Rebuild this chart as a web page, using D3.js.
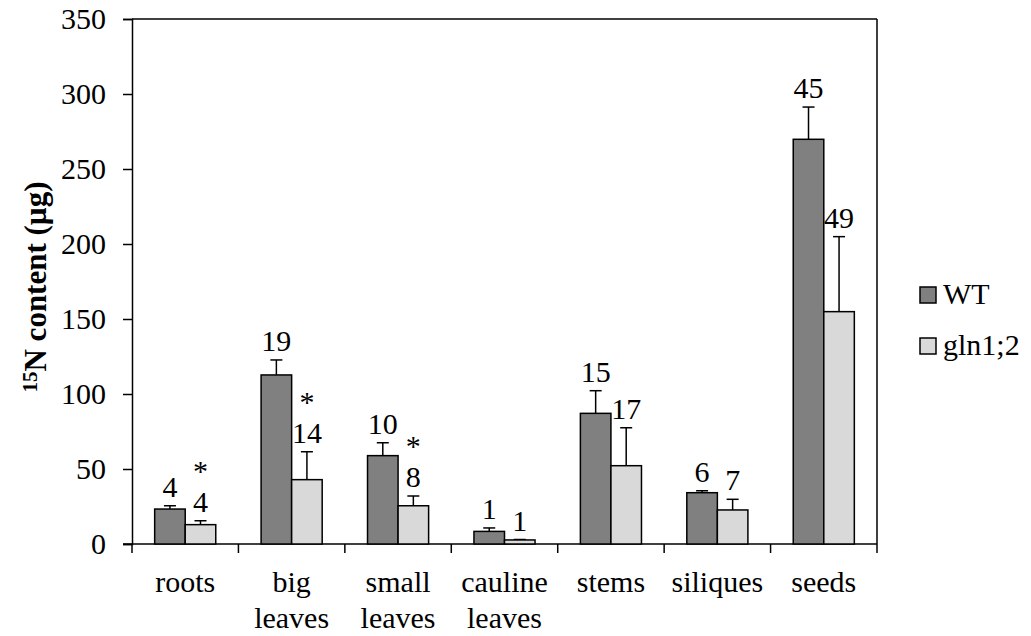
<!DOCTYPE html>
<html>
<head>
<meta charset="utf-8">
<script src="https://cdn.jsdelivr.net/npm/d3@7"></script>
<style>
  body { margin: 0; background: #fff; }
</style>
</head>
<body>
<div id="chart"></div>
<script>
// data
var categories = ["roots", "big leaves", "small leaves", "cauline leaves", "stems", "siliques", "seeds"];
var categoryLines = [["roots"], ["big", "leaves"], ["small", "leaves"], ["cauline", "leaves"], ["stems"], ["siliques"], ["seeds"]];
var seriesNames = ["WT", "gln1;2"];
var wtValues = [23.3, 112.7, 58.9, 8.4, 87.1, 34.2, 269.8];
var wtErrors = [2.2, 10.0, 8.6, 2.3, 15.1, 1.3, 21.5];
var glnValues = [12.9, 42.9, 25.5, 2.7, 52.2, 22.7, 154.9];
var glnErrors = [2.6, 18.6, 6.5, 0.3, 25.3, 7.1, 50.0];
var wtLabels = ["4", "19", "10", "1", "15", "6", "45"];
var glnLabels = ["4", "14", "8", "1", "17", "7", "49"];
var significant = [true, true, true, false, false, false, false];
var yTicks = [0, 50, 100, 150, 200, 250, 300, 350];

var W = 1031, H = 636;
// plot area ("top" is taken by window, so plot* names)
var plotLeft = 132, plotRight = 877, plotTop = 19, plotBottom = 544;
var colors = ["#808080", "#d9d9d9"];
var fontSize = 30;
var serif = "Liberation Serif";

var svg = d3.select("#chart").append("svg")
    .attr("width", W)
    .attr("height", H)
    .attr("font-family", serif);

var x = d3.scaleBand()
    .domain(categories)
    .range([plotLeft, plotRight]);

var y = d3.scaleLinear()
    .domain([0, 350])
    .range([plotBottom, plotTop]);

var barW = x.bandwidth() * 0.287;

// top and right frame
svg.append("line")
    .attr("x1", plotLeft).attr("x2", plotRight)
    .attr("y1", plotTop).attr("y2", plotTop)
    .attr("stroke", "#000").attr("stroke-width", 1.5);
svg.append("line")
    .attr("x1", plotRight).attr("x2", plotRight)
    .attr("y1", plotTop).attr("y2", plotBottom)
    .attr("stroke", "#000").attr("stroke-width", 1.5);

// y axis
var yAxis = svg.append("g")
    .attr("transform", `translate(${plotLeft},0)`)
    .call(d3.axisLeft(y).tickValues(yTicks).tickSize(9).tickPadding(17));
yAxis.attr("font-family", serif).attr("font-size", fontSize);
yAxis.selectAll("text").attr("font-family", serif).attr("font-size", fontSize);
yAxis.selectAll("line, path").attr("stroke", "#000").attr("stroke-width", 1.5);

// x axis line with ticks on band edges
svg.append("line")
    .attr("x1", plotLeft - 9).attr("x2", plotRight)
    .attr("y1", plotBottom).attr("y2", plotBottom)
    .attr("stroke", "#000").attr("stroke-width", 1.5);
var edges = categories.map(c => x(c)).concat([x(categories[categories.length - 1]) + x.bandwidth()]);
svg.selectAll(".xtick")
    .data(edges)
    .enter()
    .append("line")
    .attr("x1", d => d).attr("x2", d => d)
    .attr("y1", plotBottom).attr("y2", plotBottom + 9)
    .attr("stroke", "#000").attr("stroke-width", 1.5);

// category labels
var catLabel = svg.selectAll(".cat")
    .data(categoryLines)
    .enter()
    .append("text")
    .attr("text-anchor", "middle")
    .attr("font-family", serif)
    .attr("font-size", fontSize);
catLabel.each(function(lines, i) {
    var cx = x(categories[i]) + x.bandwidth() / 2;
    d3.select(this).selectAll("tspan")
        .data(lines)
        .enter()
        .append("tspan")
        .attr("x", cx)
        .attr("y", (d, j) => 592 + j * 36)
        .text(d => d);
});

// bars
var series = [
    {name: seriesNames[0], values: wtValues, errors: wtErrors, labels: wtLabels, color: colors[0], off: -barW},
    {name: seriesNames[1], values: glnValues, errors: glnErrors, labels: glnLabels, color: colors[1], off: 0}
];

series.forEach(function(s) {
    var rows = categories.map((c, i) => ({c: c, v: s.values[i], e: s.errors[i], l: s.labels[i], i: i}));
    var g = svg.append("g");
    var cxOf = d => x(d.c) + x.bandwidth() / 2 + s.off + barW / 2;

    // error bars (upper only)
    g.selectAll(".err")
        .data(rows)
        .enter()
        .append("line")
        .attr("x1", cxOf).attr("x2", cxOf)
        .attr("y1", d => y(d.v)).attr("y2", d => y(d.v + d.e))
        .attr("stroke", "#000").attr("stroke-width", 1.5);
    g.selectAll(".cap")
        .data(rows)
        .enter()
        .append("line")
        .attr("x1", d => cxOf(d) - 6).attr("x2", d => cxOf(d) + 6)
        .attr("y1", d => y(d.v + d.e)).attr("y2", d => y(d.v + d.e))
        .attr("stroke", "#000").attr("stroke-width", 1.5);

    g.selectAll("rect")
        .data(rows)
        .enter()
        .append("rect")
        .attr("x", d => x(d.c) + x.bandwidth() / 2 + s.off)
        .attr("y", d => y(d.v))
        .attr("width", barW)
        .attr("height", d => y(0) - y(d.v))
        .attr("fill", s.color)
        .attr("stroke", "#000")
        .attr("stroke-width", 1.5);

    g.selectAll(".lbl")
        .data(rows)
        .enter()
        .append("text")
        .attr("x", cxOf)
        .attr("y", d => y(d.v + d.e) - 9)
        .attr("text-anchor", "middle")
        .attr("font-family", serif)
        .attr("font-size", fontSize)
        .text(d => d.l);

    // significance stars above the gln1;2 labels
    if (s.off === 0) {
        g.selectAll(".star")
            .data(rows.filter(d => significant[d.i]))
            .enter()
            .append("text")
            .attr("x", cxOf)
            .attr("y", d => y(d.v + d.e) - 9 - 31)
            .attr("text-anchor", "middle")
            .attr("font-family", serif)
            .attr("font-size", fontSize)
            .text("*");
    }
});

// y axis title
var title = svg.append("text")
    .attr("transform", "translate(43,287) rotate(-90)")
    .attr("text-anchor", "middle")
    .attr("font-family", serif)
    .attr("font-size", 31)
    .attr("font-weight", "bold");
title.append("tspan").attr("dy", "-0.3em").attr("font-size", 21).text("15");
title.append("tspan").attr("dy", "0.3em").text("N content (µg)");

// legend
var legend = svg.selectAll(".leg")
    .data(series)
    .enter()
    .append("g")
    .attr("transform", (d, i) => `translate(920,${287 + i * 51})`);
legend.append("rect")
    .attr("width", 16).attr("height", 16)
    .attr("fill", d => d.color)
    .attr("stroke", "#000").attr("stroke-width", 1.5);
legend.append("text")
    .attr("x", 23).attr("y", 17)
    .attr("font-family", serif)
    .attr("font-size", fontSize)
    .text(d => d.name);
</script>
</body>
</html>
